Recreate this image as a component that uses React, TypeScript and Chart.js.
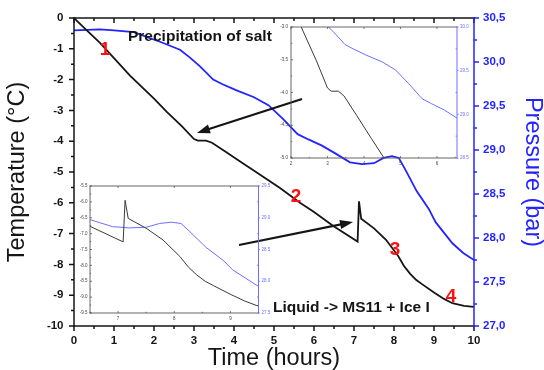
import React, { useEffect, useRef } from "react";
import { Chart, registerables } from "chart.js";

Chart.register(...registerables);

const FAMILY = "'Liberation Sans', Arial, Helvetica, sans-serif";
const BLACK = "#151515";
const BLUE = "#2323ff";
const INSET_BLACK = "#3a3a3a";
const INSET_BLUE = "#6e6eff";
const RED = "#ff1010";

// ---- data: temperature (°C) vs time (hours)
const tempTimes = [0, 0.3, 0.65, 1.0, 1.4, 2.0, 2.32, 2.7, 3.0, 3.1, 3.3, 3.45, 3.8, 4.2, 4.55, 5.15, 5.65, 6.0, 6.5, 7.09, 7.125, 7.18, 7.5, 7.8, 8.1, 8.25, 8.4, 8.55, 8.7, 9.0, 9.25, 9.46, 9.75, 10.0];
const tempValues = [0, -0.38, -0.81, -1.3, -1.87, -2.62, -3.05, -3.52, -3.93, -3.98, -3.98, -4.05, -4.35, -4.7, -5.0, -5.52, -6.0, -6.3, -6.77, -7.26, -5.95, -6.52, -6.83, -7.2, -7.72, -8.05, -8.3, -8.5, -8.64, -8.91, -9.12, -9.26, -9.35, -9.38];

// ---- data: pressure (bar) vs time (hours)
const presTimes = [0, 0.65, 1.0, 1.5, 1.9, 2.15, 2.65, 2.9, 3.15, 3.48, 3.7, 4.05, 4.5, 4.86, 5.23, 5.59, 5.86, 6.2, 6.5, 6.9, 7.2, 7.5, 7.74, 7.95, 8.12, 8.28, 8.57, 8.87, 9.04, 9.46, 9.73, 10.0];
const presValues = [30.36, 30.37, 30.36, 30.34, 30.27, 30.23, 30.14, 30.05, 29.95, 29.8, 29.75, 29.68, 29.6, 29.51, 29.35, 29.18, 29.12, 29.05, 28.97, 28.86, 28.84, 28.85, 28.91, 28.93, 28.91, 28.78, 28.53, 28.33, 28.18, 27.94, 27.83, 27.75];

// ---- tick values
const mainXTicks = [0, 1, 2, 3, 4, 5, 6, 7, 8, 9, 10];
const mainYTicks = [-10, -9, -8, -7, -6, -5, -4, -3, -2, -1, 0];
const mainY1Ticks = [27, 27.5, 28, 28.5, 29, 29.5, 30, 30.5];
const inset1XTicks = [2, 3, 4, 5, 6];
const inset1YTicks = [-5, -4.5, -4, -3.5, -3];
const inset1Y1Ticks = [28.5, 29, 29.5, 30];
const inset2XTicks = [7, 8, 9];
const inset2YTicks = [-9.5, -9, -8.5, -8, -7.5, -7, -6.5, -6, -5.5];
const inset2Y1Ticks = [27.5, 28, 28.5, 29, 29.5];

// ---- annotations
const phaseLabels = ["1", "2", "3", "4"];
const phaseLabelTimes = [0.775, 5.55, 8.025, 9.425];
const phaseLabelTemps = [-1.04, -5.81, -7.53, -9.06];
const noteTexts = ["Precipitation of salt", "Liquid -> MS11 + Ice I"];
const noteTimes = [1.35, 4.975];
const noteTemps = [-0.6, -9.4];
const arrowTails = [[5.7, -2.63], [4.125, -7.37]];
const arrowHeads = [[3.075, -3.73], [6.975, -6.62]];

const pts = (xs: number[], ys: number[]) => xs.map((x, i) => ({ x, y: ys[i] }));
const seq = (from: number, to: number, step: number) => {
  const out: number[] = [];
  for (let v = from; v <= to + 1e-9; v += step) out.push(+v.toFixed(4));
  return out;
};

type Edge = "top" | "bottom" | "left" | "right";
interface Mark { scale: string; edge: Edge; values: number[]; len: number; color: string; width: number }
interface Border { edge: Edge; color: string; width: number }
interface Decor {
  borders: Border[];
  marks: Mark[];
  texts?: { text: string; x: number; y: number; color: string; font: string; align: CanvasTextAlign }[];
  arrows?: { x1: number; y1: number; x2: number; y2: number; color: string; width: number; head: number; half: number }[];
}

function decorPlugin(cfg: Decor) {
  return {
    id: "decor",
    afterDatasetsDraw(chart: any) {
      const { ctx, chartArea: a, scales } = chart;
      ctx.save();
      for (const m of cfg.marks) {
        const s = scales[m.scale];
        ctx.strokeStyle = m.color;
        ctx.lineWidth = m.width;
        ctx.beginPath();
        for (const v of m.values) {
          const p = s.getPixelForValue(v);
          if (m.edge === "top") { ctx.moveTo(p, a.top); ctx.lineTo(p, a.top - m.len); }
          else if (m.edge === "bottom") { ctx.moveTo(p, a.bottom); ctx.lineTo(p, a.bottom + m.len); }
          else if (m.edge === "left") { ctx.moveTo(a.left, p); ctx.lineTo(a.left - m.len, p); }
          else { ctx.moveTo(a.right, p); ctx.lineTo(a.right + m.len, p); }
        }
        ctx.stroke();
      }
      for (const b of cfg.borders) {
        ctx.strokeStyle = b.color;
        ctx.lineWidth = b.width;
        const h = b.width / 2;
        ctx.beginPath();
        if (b.edge === "top") { ctx.moveTo(a.left - h, a.top); ctx.lineTo(a.right + h, a.top); }
        else if (b.edge === "bottom") { ctx.moveTo(a.left - h, a.bottom); ctx.lineTo(a.right + h, a.bottom); }
        else if (b.edge === "left") { ctx.moveTo(a.left, a.top - h); ctx.lineTo(a.left, a.bottom + h); }
        else { ctx.moveTo(a.right, a.top - h); ctx.lineTo(a.right, a.bottom + h); }
        ctx.stroke();
      }
      const sx = scales.x, sy = scales.y;
      for (const t of cfg.texts || []) {
        ctx.font = t.font;
        ctx.fillStyle = t.color;
        ctx.textAlign = t.align;
        ctx.textBaseline = "middle";
        ctx.fillText(t.text, sx.getPixelForValue(t.x), sy.getPixelForValue(t.y));
      }
      for (const ar of cfg.arrows || []) {
        const x1 = sx.getPixelForValue(ar.x1), y1 = sy.getPixelForValue(ar.y1);
        const x2 = sx.getPixelForValue(ar.x2), y2 = sy.getPixelForValue(ar.y2);
        const ang = Math.atan2(y2 - y1, x2 - x1);
        const c = Math.cos(ang), s = Math.sin(ang);
        const bx = x2 - ar.head * c, by = y2 - ar.head * s;
        ctx.strokeStyle = ar.color;
        ctx.fillStyle = ar.color;
        ctx.lineWidth = ar.width;
        ctx.beginPath();
        ctx.moveTo(x1, y1);
        ctx.lineTo(bx + c * 2, by + s * 2);
        ctx.stroke();
        ctx.beginPath();
        ctx.moveTo(x2, y2);
        ctx.lineTo(bx + ar.half * s, by - ar.half * c);
        ctx.lineTo(bx - ar.half * s, by + ar.half * c);
        ctx.closePath();
        ctx.fill();
      }
      ctx.restore();
    },
  };
}

interface Spec {
  xRange: number[]; yRange: number[]; y1Range: number[];
  xTicks: number[]; yTicks: number[]; y1Ticks: number[];
  padTop: number; yWidth: number; y1Width: number; xHeight: number;
  tickSize: number; tickWeight: string; tickColor: string; y1TickColor: string;
  xPad: number; yPad: number; y1Pad: number;
  xFmt: (v: number) => string; yFmt: (v: number) => string; y1Fmt: (v: number) => string;
  tempColor: string; presColor: string; lineWidth: number;
  xTitle: any; yTitle: any; y1Title: any;
  decor: Decor;
}

function buildChart(canvas: HTMLCanvasElement, spec: Spec) {
  const font = { family: FAMILY, size: spec.tickSize, weight: spec.tickWeight as any };
  const fix = (vals: number[]) => (s: any) => { s.ticks = vals.map((v) => ({ value: v })); };
  const grid = { display: true, drawOnChartArea: false, drawTicks: false };
  return new Chart(canvas, {
    type: "line",
    data: {
      datasets: [
        { data: pts(tempTimes, tempValues), yAxisID: "y", borderColor: spec.tempColor, borderWidth: spec.lineWidth, pointRadius: 0, tension: 0, fill: false },
        { data: pts(presTimes, presValues), yAxisID: "y1", borderColor: spec.presColor, borderWidth: spec.lineWidth, pointRadius: 0, tension: 0, fill: false },
      ],
    },
    options: {
      animation: false,
      responsive: false,
      devicePixelRatio: 1,
      events: [],
      layout: { padding: { top: spec.padTop, left: 0, right: 0, bottom: 0 } },
      plugins: { legend: { display: false }, tooltip: { enabled: false } },
      scales: {
        x: {
          type: "linear", position: "bottom", min: spec.xRange[0], max: spec.xRange[1],
          afterBuildTicks: fix(spec.xTicks),
          afterFit: (s: any) => { s.height = spec.xHeight; },
          grid, border: { display: false },
          ticks: { font, color: spec.tickColor, padding: spec.xPad, maxRotation: 0, autoSkip: false, callback: (v: any) => spec.xFmt(Number(v)) },
          title: spec.xTitle,
        },
        y: {
          type: "linear", position: "left", min: spec.yRange[0], max: spec.yRange[1],
          afterBuildTicks: fix(spec.yTicks),
          afterFit: (s: any) => { s.width = spec.yWidth; },
          grid, border: { display: false },
          ticks: { font, color: spec.tickColor, padding: spec.yPad, autoSkip: false, callback: (v: any) => spec.yFmt(Number(v)) },
          title: spec.yTitle,
        },
        y1: {
          type: "linear", position: "right", min: spec.y1Range[0], max: spec.y1Range[1],
          afterBuildTicks: fix(spec.y1Ticks),
          afterFit: (s: any) => { s.width = spec.y1Width; },
          grid, border: { display: false },
          ticks: { font, color: spec.y1TickColor, padding: spec.y1Pad, autoSkip: false, callback: (v: any) => spec.y1Fmt(Number(v)) },
          title: spec.y1Title,
        },
      },
    } as any,
    plugins: [decorPlugin(spec.decor)],
  });
}

const titleFont = { family: FAMILY, size: 23.5, lineHeight: 1 };

const mainSpec: Spec = {
  xRange: [0, 10], yRange: [-10, 0], y1Range: [27, 30.5],
  xTicks: mainXTicks, yTicks: mainYTicks, y1Ticks: mainY1Ticks,
  padTop: 18, yWidth: 74, y1Width: 70, xHeight: 44,
  tickSize: 11.5, tickWeight: "bold", tickColor: BLACK, y1TickColor: BLUE,
  xPad: 8, yPad: 10.5, y1Pad: 9,
  xFmt: (v) => String(v), yFmt: (v) => String(v), y1Fmt: (v) => v.toFixed(1).replace(".", ","),
  tempColor: BLACK, presColor: BLUE, lineWidth: 1.8,
  xTitle: { display: true, text: "Time (hours)", color: BLACK, font: titleFont, padding: { top: 0, bottom: 0 } },
  yTitle: { display: true, text: "Temperature (\u00B0C)", color: BLACK, font: titleFont, padding: { top: 6, bottom: 0 } },
  y1Title: { display: true, text: "Pressure (bar)", color: BLUE, font: titleFont, padding: { top: 0, bottom: 0 } },
  decor: {
    borders: [
      { edge: "left", color: BLACK, width: 1.5 },
      { edge: "bottom", color: BLACK, width: 1.5 },
      { edge: "top", color: BLACK, width: 1.5 },
      { edge: "right", color: BLUE, width: 1.5 },
    ],
    marks: [
      { scale: "x", edge: "bottom", values: seq(0, 10, 1), len: 5, color: BLACK, width: 1.5 },
      { scale: "x", edge: "bottom", values: seq(0.5, 9.5, 1), len: 3, color: BLACK, width: 1.5 },
      { scale: "x", edge: "top", values: seq(0, 10, 1), len: -5, color: BLACK, width: 1.5 },
      { scale: "x", edge: "top", values: seq(0.5, 9.5, 1), len: -3, color: BLACK, width: 1.5 },
      { scale: "y", edge: "left", values: seq(-10, 0, 1), len: 5, color: BLACK, width: 1.5 },
      { scale: "y", edge: "left", values: seq(-9.5, -0.5, 1), len: 3, color: BLACK, width: 1.5 },
      { scale: "y1", edge: "right", values: seq(27, 30.5, 0.5), len: 5, color: BLUE, width: 1.5 },
      { scale: "y1", edge: "right", values: seq(27.25, 30.25, 0.5), len: 3, color: BLUE, width: 1.5 },
    ],
    texts: [
      ...noteTexts.map((t, i) => ({ text: t, x: noteTimes[i], y: noteTemps[i], color: BLACK, font: `bold 15.5px ${FAMILY}`, align: "left" as CanvasTextAlign })),
      ...phaseLabels.map((t, i) => ({ text: t, x: phaseLabelTimes[i], y: phaseLabelTemps[i], color: RED, font: `bold 19px ${FAMILY}`, align: "center" as CanvasTextAlign })),
    ],
    arrows: arrowTails.map((tl, i) => ({ x1: tl[0], y1: tl[1], x2: arrowHeads[i][0], y2: arrowHeads[i][1], color: BLACK, width: 2.2, head: 13, half: 4.5 })),
  },
};

const dot1 = (v: number) => v.toFixed(1);
const insetDecor = (xr: number[], yr: number[], y1r: number[]): Decor => ({
  borders: [
    { edge: "left", color: "#555", width: 0.9 },
    { edge: "bottom", color: "#555", width: 0.9 },
    { edge: "top", color: "#555", width: 0.9 },
    { edge: "right", color: INSET_BLUE, width: 1 },
  ],
  marks: [
    { scale: "x", edge: "bottom", values: seq(Math.ceil(xr[0]), xr[1], 1), len: -2, color: "#555", width: 0.8 },
    { scale: "x", edge: "bottom", values: seq(Math.ceil(xr[0] - 0.5) + 0.5, xr[1], 1), len: -1.2, color: "#555", width: 0.8 },
    { scale: "x", edge: "top", values: seq(Math.ceil(xr[0]), xr[1], 1), len: -2, color: "#555", width: 0.8 },
    { scale: "y", edge: "left", values: seq(yr[0], yr[1], 0.5), len: -2, color: "#555", width: 0.8 },
    { scale: "y", edge: "left", values: seq(yr[0] + 0.25, yr[1], 0.5), len: -1.2, color: "#555", width: 0.8 },
    { scale: "y1", edge: "right", values: seq(y1r[0], y1r[1], 0.5), len: 1.5, color: INSET_BLUE, width: 0.8 },
    { scale: "y1", edge: "right", values: seq(y1r[0] + 0.25, y1r[1], 0.5), len: -1.5, color: INSET_BLUE, width: 0.8 },
  ],
});

const inset1Spec: Spec = {
  xRange: [2, 6.55], yRange: [-5, -3], y1Range: [28.5, 30],
  xTicks: inset1XTicks, yTicks: inset1YTicks, y1Ticks: inset1Y1Ticks,
  padTop: 7, yWidth: 21, y1Width: 13, xHeight: 12,
  tickSize: 4.5, tickWeight: "normal", tickColor: "#444", y1TickColor: INSET_BLUE,
  xPad: 3, yPad: 3, y1Pad: 3,
  xFmt: (v) => String(v), yFmt: dot1, y1Fmt: dot1,
  tempColor: INSET_BLACK, presColor: INSET_BLUE, lineWidth: 1,
  xTitle: { display: false }, yTitle: { display: false }, y1Title: { display: false },
  decor: insetDecor([2, 6.55], [-5, -3], [28.5, 30]),
};

const inset2Spec: Spec = {
  xRange: [6.5, 9.5], yRange: [-9.5, -5.5], y1Range: [27.5, 29.5],
  xTicks: inset2XTicks, yTicks: inset2YTicks, y1Ticks: inset2Y1Ticks,
  padTop: 6, yWidth: 20, y1Width: 16.5, xHeight: 12,
  tickSize: 4.5, tickWeight: "normal", tickColor: "#444", y1TickColor: INSET_BLUE,
  xPad: 3.5, yPad: 2.5, y1Pad: 3,
  xFmt: (v) => String(v), yFmt: dot1, y1Fmt: dot1,
  tempColor: INSET_BLACK, presColor: INSET_BLUE, lineWidth: 1,
  xTitle: { display: false }, yTitle: { display: false }, y1Title: { display: false },
  decor: insetDecor([6.5, 9.5], [-9.5, -5.5], [27.5, 29.5]),
};

export default function App() {
  const mainRef = useRef<HTMLCanvasElement>(null);
  const in1Ref = useRef<HTMLCanvasElement>(null);
  const in2Ref = useRef<HTMLCanvasElement>(null);
  useEffect(() => {
    const charts = [
      buildChart(mainRef.current!, mainSpec),
      buildChart(in1Ref.current!, inset1Spec),
      buildChart(in2Ref.current!, inset2Spec),
    ];
    return () => charts.forEach((c) => c.destroy());
  }, []);
  return (
    <div style={{ position: "absolute", left: 0, top: 0, width: 544, height: 370, background: "#fff", overflow: "hidden" }}>
      <canvas ref={mainRef} width={544} height={370} style={{ position: "absolute", left: 0, top: 0 }} />
      <canvas ref={in1Ref} width={200} height={150} style={{ position: "absolute", left: 270, top: 20 }} />
      <canvas ref={in2Ref} width={205} height={145} style={{ position: "absolute", left: 70, top: 180 }} />
    </div>
  );
}
